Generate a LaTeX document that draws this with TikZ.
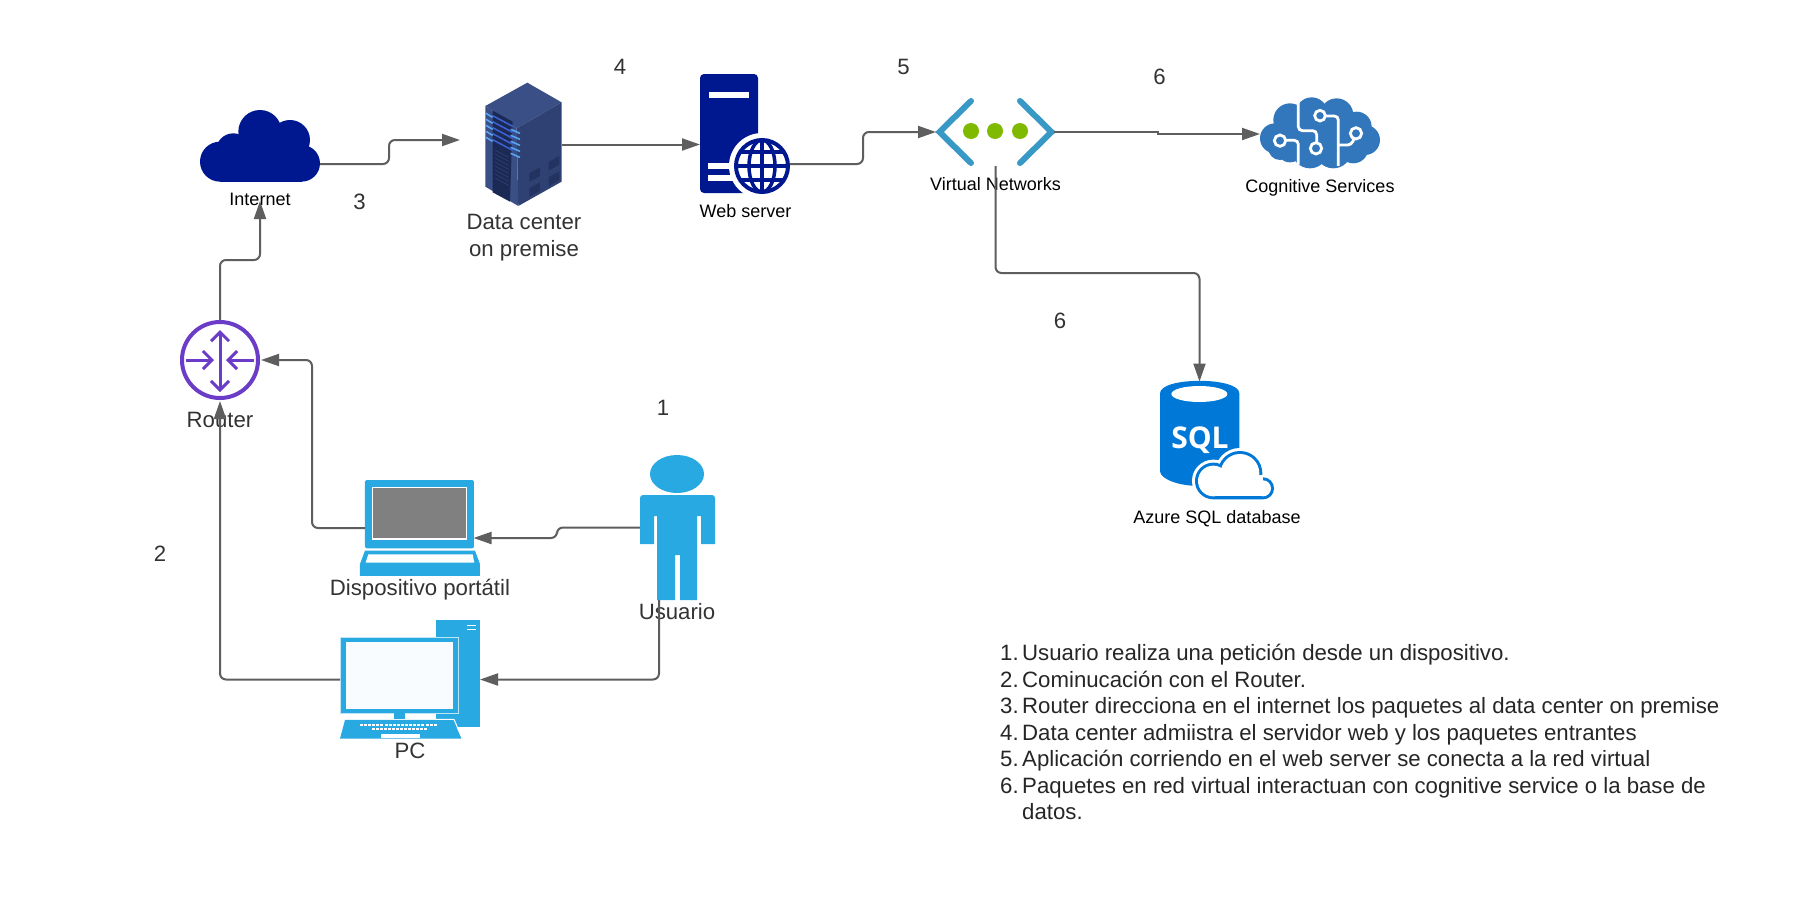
\documentclass[tikz,border=0pt]{standalone}
\usepackage{fontspec}
\setmainfont{Liberation Sans}
\newfontfamily\sqlfont{Open Sans}
\definecolor{inkgray}{HTML}{333333}
\definecolor{listgray}{HTML}{262626}
\definecolor{wiregray}{HTML}{5E5E5E}
\definecolor{navy}{HTML}{00188F}
\definecolor{skyblue}{HTML}{29A9E1}
\definecolor{paleblue}{HTML}{F8FCFE}
\definecolor{netblue}{HTML}{3999C6}
\definecolor{netgreen}{HTML}{7FBA00}
\definecolor{brainblue}{HTML}{3277BC}
\definecolor{sqlblue}{HTML}{0078D7}
\definecolor{routerviolet}{HTML}{6A3CC8}
\definecolor{racktop}{HTML}{3B4F87}
\definecolor{rackside}{HTML}{2F4173}
\definecolor{rackdark}{HTML}{1B2A55}
\definecolor{rackstripe}{HTML}{5AA5F0}
\definecolor{rackfront}{HTML}{3D5FD0}
\usetikzlibrary{arrows.meta, positioning, calc}
\tikzset{
  slot/.style 2 args={
    minimum width=#1pt, minimum height=#2pt,
    inner sep=0pt, outer sep=0pt
  },
  conn/.style={
    -{Triangle[length=18pt,width=12pt]}, line width=2pt,
    color=wiregray, rounded corners=6pt
  },
  lbl/.style={font=\fontsize{22.2}{27}\selectfont, text=inkgray, align=center, inner sep=0pt},
  blbl/.style={font=\fontsize{18}{22}\selectfont, text=black, align=center, inner sep=0pt},
  num/.style={font=\fontsize{22.2}{25}\selectfont, text=inkgray, inner sep=0pt},
  steps/.style={font=\fontsize{22.2}{26.5}\selectfont, text=listgray, align=left, inner sep=0pt},
  rtarrow/.style={line width=3pt, routerviolet, {Straight Barb[length=9pt,width=18pt]}-{Straight Barb[length=9pt,width=18pt]}},
  rtin/.style={line width=3pt, routerviolet, -{Straight Barb[length=9pt,width=18pt]}},
  zoomed/.style={shift={#1}, x=0.3333pt, y=-0.3333pt},
}
\newcommand{\stepno}[1]{\makebox[22pt][l]{#1}}
\begin{document}
\begin{tikzpicture}[x=1pt, y=-1pt]
    \useasboundingbox (0,0) rectangle (1800,924);
    \fill[white] (0,0) rectangle (1800,924);

    \node[slot={120}{72}] (internet) at (260,146) {};
    \node[slot={77}{123}] (dcenter) at (523.5,144.5) {};
    \node[slot={90}{119}] (webserver) at (745,133.5) {};
    \node[slot={117}{66}] (vnet) at (995.5,132) {};
    \node[slot={120}{71}] (cognitive) at (1320,132.5) {};
    \node[slot={79}{103}] (sqldb) at (1199.5,432) {};
    \node[draw=routerviolet, line width=4pt, circle, minimum size=76pt, inner sep=0pt, outer sep=2pt] (router) at (220,360) {};
    \node[slot={120}{96}] (laptop) at (420,528) {};
    \node[slot={75}{145}] (usuario) at (677.5,527.5) {};
    \node[slot={140}{119}] (pc) at (410,679.5) {};

    % cloud
    \begin{scope}[zoomed={(170,60)}]
      \fill[navy] (270,215) circle (65);
      \fill[navy] (360,240) circle (60);
      \fill[navy] (190,272) circle (52);
      \fill[navy] (150,305) circle (60);
      \fill[navy] (395,310) circle (55);
      \fill[navy] (150,250) rectangle (395,365);
    \end{scope}

    % rack
    \begin{scope}[zoomed={(170,60)}]
      \fill[racktop] (946,138) -- (1072,68) -- (1175,127) -- (1040,205) -- cycle;
      \fill[rackside] (1040,205) -- (1175,127) -- (1175,365) -- (1045,438) -- cycle;
      \fill[racktop] (946,138) -- (1040,205) -- (1045,438) -- (946,380) -- cycle;
      \fill[rackdark] (968,152) -- (1028,185) -- (1020,425) -- (968,397) -- cycle;
      \foreach \s in {0,1,2,3,4} {
        \draw[line width=1.6pt, color=rackfront] (968,167+\s*18) -- (1028,199+\s*18);
        \draw[line width=1.6pt, color=rackstripe] (948,160+\s*18) -- (968,172+\s*18);
        \draw[line width=1.6pt, color=rackstripe] (1022,208+\s*18) -- (1050,220+\s*18);
      }
      \foreach \s in {0,1,2,3,4,5,6,7} \draw[line width=0.6pt, color=rackside] (975,270+\s*12) -- (1016,292+\s*12);
      \fill[rackdark!60!rackside] (1078,340) -- (1110,322) -- (1110,348) -- (1078,366) -- cycle;
      \fill[rackdark!60!rackside] (1136,306) -- (1168,288) -- (1168,314) -- (1136,332) -- cycle;
      \fill[rackdark!60!rackside] (1078,385) -- (1110,367) -- (1110,393) -- (1078,411) -- cycle;
      \fill[rackdark!60!rackside] (1136,352) -- (1168,334) -- (1168,360) -- (1136,378) -- cycle;
    \end{scope}

    % web server
    \fill[navy, rounded corners=4pt] (700,74) -- (758,74) -- (758,193) -- (700,193) -- cycle;
    \fill[white] (709,92) rectangle (749,98);
    \fill[white] (708,163) rectangle (740,169);
    \fill[white] (708,175) rectangle (740,181);
    \fill[white] (762,166) circle (33);
    \draw[navy, line width=4pt] (762,166) circle (26);
    \draw[navy, line width=3.5pt] (762,166) ellipse (13 and 26);
    \draw[navy, line width=3.5pt] (762,140) -- (762,192);
    \draw[navy, line width=3.5pt] (736,166) -- (788,166);
    \draw[navy, line width=3.5pt] (741,152) -- (783,152);
    \draw[navy, line width=3.5pt] (741,180) -- (783,180);

    % virtual network
    \draw[netblue, line width=6pt, line cap=round] (971,101) -- (939.5,132) -- (971,163);
    \draw[netblue, line width=6pt, line cap=round] (1020,101) -- (1051.5,132) -- (1020,163);
    \foreach \cx in {971,995,1020} \fill[netgreen] (\cx,131) circle (8);

    % brain
    \begin{scope}[zoomed={(1240,80)}]
      \foreach \bx/\by/\br in {105/175/45,120/205/35,150/120/50,215/100/48,290/105/50,350/140/45,375/180/45,340/205/45,280/210/55,210/210/55,150/205/42}
        \fill[brainblue] (\bx,\by) circle (\br);
      \fill[brainblue] (120,120) rectangle (350,220);
      \draw[white, line width=2.8pt, rounded corners=4pt] (175,66) -- (175,152) -- (230,152) -- (230,188);
      \draw[white, line width=2.8pt, rounded corners=4pt] (255,108) -- (295,108) -- (295,258);
      \draw[white, line width=2.8pt, rounded corners=4pt] (296,195) -- (335,195) -- (342,175);
      \draw[white, line width=2.8pt, rounded corners=4pt] (137,181) -- (175,181) -- (175,254);
      \draw[white, line width=2.8pt] (120,182) circle (17);
      \draw[white, line width=2.8pt] (228,205) circle (17);
      \draw[white, line width=2.8pt] (240,107) circle (16);
      \draw[white, line width=2.8pt] (348,160) circle (17);
    \end{scope}

    % sql
    \begin{scope}[zoomed={(1130,360)}]
      \fill[sqlblue] (90,100) -- (90,335) .. controls (95,360) and (150,378) .. (209,378) -- (328,340) -- (328,100) .. controls (328,50) and (90,50) .. (90,100) -- cycle;
      \fill[white] (208,102) ellipse (84 and 24);
      \draw[white, line width=12pt] (250,363) circle (46) (330,340) circle (58) (399,385) circle (24) (250,409) -- (399,409);
      \draw[sqlblue, line width=6pt] (250,363) circle (46) (330,340) circle (58) (399,385) circle (24) (250,409) -- (399,409);
      \fill[white] (250,363) circle (46) (330,340) circle (58) (399,385) circle (24);
      \fill[white] (250,345) rectangle (399,409);
    \end{scope}
    \node[font=\sqlfont\bfseries\fontsize{30}{32}\selectfont, text=white, inner sep=0pt] (sqltext) at (1200,440) {SQL};

    % router
    \draw[rtarrow] (220,330) -- (220,392);
    \draw[rtin] (186,360) -- (214,360);
    \draw[rtin] (254,360) -- (226,360);

    % laptop
    \begin{scope}[zoomed={(320,460)}]
      \fill[skyblue, rounded corners=2pt] (135,60) rectangle (462,265);
      \fill[white] (155,80) rectangle (442,240);
      \fill[gray] (160,85) rectangle (438,235);
      \fill[skyblue] (135,272) -- (465,272) -- (480,312) -- (480,348) -- (120,348) -- (120,312) -- cycle;
      \fill[white] (145,283) -- (458,283) -- (463,308) -- (137,308) -- cycle;
    \end{scope}

    % user
    \fill[skyblue] (677,474) ellipse (27 and 19);
    \fill[skyblue] (640,544) [rounded corners=3pt] -- (640,495) -- (715,495) -- (715,520) [sharp corners] -- (715,544) -- (701,544) -- (701,516) -- (697,516) -- (697,600) -- (680,600) -- (680,555) -- (675,555) -- (675,600) -- (657,600) -- (657,516) -- (654,516) -- (654,544) -- cycle;

    % desktop
    \begin{scope}[zoomed={(320,460)}]
      \fill[skyblue] (348,480) rectangle (480,802);
      \draw[white, line width=1pt] (440,497) -- (467,497) (440,510) -- (467,510);
      \draw[white!70!skyblue, line width=1pt, fill=skyblue] (62,533) rectangle (415,760);
      \fill[paleblue] (78,547) rectangle (398,747);
      \fill[skyblue] (221,760) rectangle (255,777);
      \fill[skyblue] (60,836) -- (75,780) -- (400,780) -- (425,836) -- cycle;
      \draw[white, line width=1pt] (348,778) -- (402,778) -- (427,836);
      \fill[white] (184,822) rectangle (300,834);
      \foreach \k in {0,...,18} \fill[white] (120+\k*12.3,791) rectangle (129+\k*12.3,798);
      \foreach \k in {0,...,13} \fill[white] (156+\k*12,803) rectangle (165+\k*12,810);
    \end{scope}

    \node[blbl, anchor=center] (internetlbl) at (260,199) {Internet};
    \node[lbl] (dcenterlbl) at (524,238) {Data center\\on premise};
    \node[blbl] (webserverlbl) at (745.5,211) {Web server};
    \node[blbl] (vnetlbl) at (995.5,184) {Virtual Networks};
    \node[blbl] (cognitivelbl) at (1320,188) {Cognitive Services};
    \node[blbl] (sqllbl) at (1217,519) {Azure SQL database};
    \node[lbl] (routerlbl) at (220,419.5) {Router};
    \node[lbl] (laptoplbl) at (420,590) {Dispositivo port\'atil};
    \node[lbl] (usuariolbl) at (677,612) {Usuario};
    \node[lbl] (pclbl) at (410,751) {PC};

    \node[num] (n1) at (663,408) {1};
    \node[num] (n2) at (160,554) {2};
    \node[num] (n3) at (359.5,202) {3};
    \node[num] (n4) at (620,67) {4};
    \node[num] (n5) at (903.5,67) {5};
    \node[num] (n6a) at (1159.5,77) {6};
    \node[num] (n6b) at (1060,321) {6};

    \draw[conn] ([yshift=-18pt]internet.east) -- ++(69,0) |- ([xshift=-25pt,yshift=4.5pt]dcenter.west);
    \draw[conn] (dcenter.east) -- (dcenter.east -| webserver.west);
    \draw[conn] ([yshift=-30.5pt]webserver.east) -- ++(73,0) |- ([xshift=-1pt]vnet.west);
    \draw[conn, sharp corners] (vnet.east) -- ++(104,0) |- ([yshift=-1.5pt]cognitive.west);
    \draw[conn] ([yshift=-1pt]vnet.south) -- ++(0,107) -| ([yshift=-1pt]sqldb.north);
    \draw[conn] (router.north) -- ++(0,-60) -| ([yshift=-19pt]internet.south);
    \draw[conn] ([xshift=5pt]laptop.west) -- ++(-53,0) |- ([xshift=1pt]router.east);
    \draw[conn] (pc.west) -| ([yshift=-1pt]router.south);
    \draw[conn] (usuario.west) -- ++(-83,0) |- ([xshift=-6.5pt,yshift=-10pt]laptop.east);
    \draw[conn] ([xshift=-18.5pt]usuario.south) |- (pc.east);

    \node[steps, anchor=north west] (stepslist) at (1000,644) {\stepno{1.}Usuario realiza una petici\'on desde un dispositivo.\\
      \stepno{2.}Cominucaci\'on con el Router.\\
      \stepno{3.}Router direcciona en el internet los paquetes al data center on premise\\
      \stepno{4.}Data center admiistra el servidor web y los paquetes entrantes\\
      \stepno{5.}Aplicaci\'on corriendo en el web server se conecta a la red virtual\\
      \stepno{6.}Paquetes en red virtual interactuan con cognitive service o la base de\\
      \stepno{}datos.};
\end{tikzpicture}
\end{document}
